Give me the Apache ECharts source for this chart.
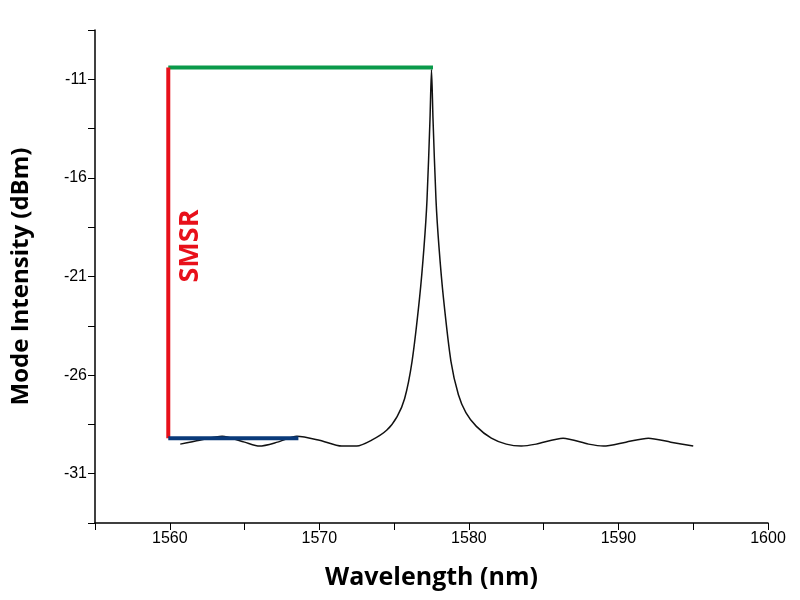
<!DOCTYPE html>
<html><head><meta charset="utf-8">
<script src="https://cdn.jsdelivr.net/npm/echarts@6/dist/echarts.min.js"></script>
<style>html,body{margin:0;background:#fff}#c{width:800px;height:600px}</style>
</head><body><div id="c"></div>
<script>
// spectrum
const wavelength = [1560.7, 1562, 1563.5, 1565, 1566, 1567.2, 1568.5, 1570, 1571.5, 1572.5, 1573.5, 1574.5, 1575.2, 1575.7, 1576.2, 1576.7, 1577.0, 1577.2, 1577.4, 1577.5, 1577.6, 1577.8, 1578.0, 1578.3, 1578.8, 1579.3, 1579.8, 1580.5, 1581.5, 1582.5, 1583.5, 1584.5, 1586.3, 1588, 1589, 1590.5, 1592, 1593.5, 1595];
const intensity = [-29.5, -29.3, -29.1, -29.4, -29.6, -29.4, -29.1, -29.3, -29.6, -29.6, -29.3, -28.8, -28.1, -27.2, -25.3, -22.1, -19.5, -17.1, -13.0, -10.5, -13.0, -17.1, -19.5, -22.1, -25.3, -27.0, -27.9, -28.6, -29.2, -29.5, -29.6, -29.5, -29.2, -29.5, -29.6, -29.4, -29.2, -29.4, -29.6];
const peakLevel = -10.4;
const floorLevel = -29.2;
const lineStart = 1559.9;
const peakWl = 1577.6;
const sideEnd = 1568.6;

const chart = echarts.init(document.getElementById('c'));
const curve = wavelength.map((w, i) => [w, intensity[i]]);
chart.setOption({
  animation: false,
  grid: { left: 95, right: 32, top: 30, bottom: 77 },
  xAxis: {
    type: 'value', min: 1555, max: 1600, interval: 5,
    name: 'Wavelength (nm)', nameLocation: 'middle', nameGap: 42,
    nameTextStyle: { fontSize: 25, fontWeight: 'bold', color: '#000', fontFamily: 'Open Sans' },
    axisLine: { lineStyle: { color: '#000', width: 1.5 } },
    axisTick: { length: 7, lineStyle: { color: '#000' } },
    axisLabel: { fontSize: 16, color: '#000', formatter: v => v % 10 === 0 ? v : '' },
    splitLine: { show: false }
  },
  yAxis: {
    type: 'value', min: -33.5, max: -8.5, interval: 2.5,
    name: 'Mode Intensity (dBm)', nameLocation: 'middle', nameGap: 62,
    nameTextStyle: { fontSize: 24, fontWeight: 'bold', color: '#000', fontFamily: 'Open Sans' },
    axisLine: { show: true, lineStyle: { color: '#000', width: 1.5 } },
    axisTick: { show: true, length: 7, lineStyle: { color: '#000' } },
    axisLabel: { fontSize: 16, color: '#000', formatter: v => Math.abs((v + 31) % 5) < 0.01 ? v : '' },
    splitLine: { show: false }
  },
  series: [
    { type: 'line', data: curve, smooth: 0.25, symbol: 'none', lineStyle: { color: '#111', width: 1.5 } },
    { type: 'line', data: [[lineStart, peakLevel], [peakWl, peakLevel]], symbol: 'none', lineStyle: { color: '#0a9a4a', width: 4 } },
    { type: 'line', data: [[lineStart, peakLevel], [lineStart, floorLevel]], symbol: 'none', lineStyle: { color: '#e8101a', width: 4 } },
    { type: 'line', data: [[lineStart, floorLevel], [sideEnd, floorLevel]], symbol: 'none', lineStyle: { color: '#0a3a7a', width: 4 } }
  ],
  graphic: [{
    type: 'text', x: 190, y: 246, rotation: Math.PI / 2, originX: 0, originY: 0,
    style: { text: 'SMSR', fill: '#e8101a', font: 'bold 27px "Open Sans"', align: 'center', verticalAlign: 'middle' }
  }]
});
</script></body></html>
